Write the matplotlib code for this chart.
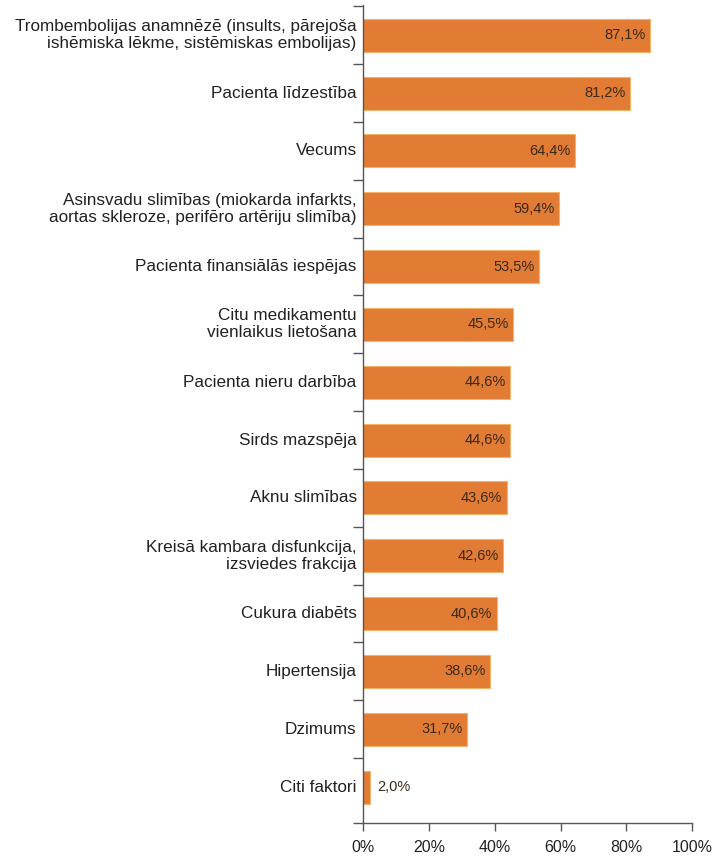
import matplotlib
matplotlib.use("Agg")
import matplotlib.pyplot as plt
from matplotlib.ticker import FixedLocator, NullFormatter
import numpy as np

categories = [
    "Trombembolijas anamnēzē (insults, pārejoša\nishēmiska lēkme, sistēmiskas embolijas)",
    "Pacienta līdzestība",
    "Vecums",
    "Asinsvadu slimības (miokarda infarkts,\naortas skleroze, perifēro artēriju slimība)",
    "Pacienta finansiālās iespējas",
    "Citu medikamentu\nvienlaikus lietošana",
    "Pacienta nieru darbība",
    "Sirds mazspēja",
    "Aknu slimības",
    "Kreisā kambara disfunkcija,\nizsviedes frakcija",
    "Cukura diabēts",
    "Hipertensija",
    "Dzimums",
    "Citi faktori",
]
values = [87.1, 81.2, 64.4, 59.4, 53.5, 45.5, 44.6, 44.6, 43.6, 42.6, 40.6, 38.6, 31.7, 2.0]
value_labels = ["87,1%", "81,2%", "64,4%", "59,4%", "53,5%", "45,5%", "44,6%", "44,6%",
                "43,6%", "42,6%", "40,6%", "38,6%", "31,7%", "2,0%"]
xticks = [0, 20, 40, 60, 80, 100]
xtick_labels = ["0%", "20%", "40%", "60%", "80%", "100%"]

font = ["Liberation Sans Narrow", "Liberation Sans", "DejaVu Sans"]
plt.rcParams['font.family'] = font
text_color = "#222222"

fig = plt.figure(figsize=(7.13, 8.59), dpi=100)
ax = fig.add_axes([0.509, 0.042, 0.462, 0.952])

n = len(categories)
y = np.arange(n)
ax.barh(y, values, height=0.57, color="#E27B33", edgecolor="#F2B268", linewidth=0.8)
ax.set_ylim(n - 0.38, -0.52)
ax.set_xlim(0, 100)

for yi, v, lab in zip(y, values, value_labels):
    if v > 10:
        ax.text(v - 1.3, yi, lab, ha="right", va="center", fontsize=10.5, color="#3a2a1a")
    else:
        ax.text(v + 2.3, yi, lab, ha="left", va="center", fontsize=10.5, color="#3a2a1a")

# category labels; boundary ticks on the left, last one on the x-axis
ax.yaxis.set_major_locator(FixedLocator(list(np.arange(n) - 0.5) + [n - 0.38]))
ax.yaxis.set_major_formatter(NullFormatter())
ax.tick_params(axis="y", which="major", length=7, width=1, color="#555555")
for yi, c in zip(y, categories):
    ax.text(-1.9, yi, c, ha="right", va="center", fontsize=12.3, color=text_color,
            linespacing=1.15, transform=ax.transData)

ax.set_xticks(xticks)
ax.set_xticklabels(xtick_labels, fontsize=11.5, color=text_color)
ax.tick_params(axis="x", length=6, width=1, color="#555555", pad=6)

for s in ["top", "right"]:
    ax.spines[s].set_visible(False)
for s in ["left", "bottom"]:
    ax.spines[s].set_color("#555555")
    ax.spines[s].set_linewidth(1)

fig.savefig("out.png", dpi=100, facecolor="white")
